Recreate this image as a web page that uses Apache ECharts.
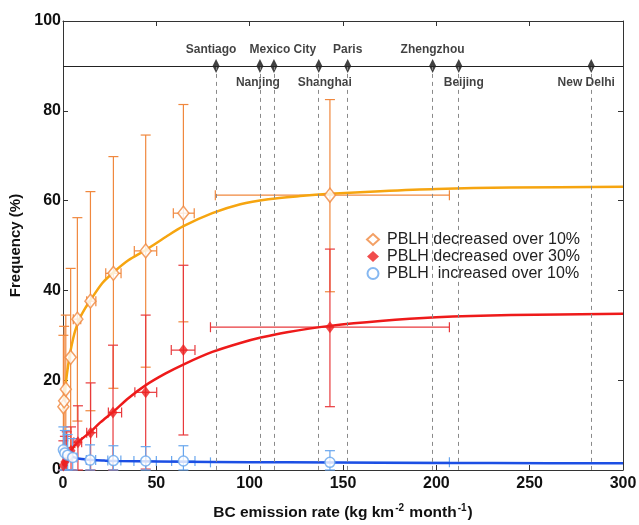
<!DOCTYPE html>
<html><head><meta charset="utf-8">
<script src="https://cdn.jsdelivr.net/npm/echarts@6/dist/echarts.min.js"></script>
<style>html,body{margin:0;padding:0;background:#fff}#c{width:639px;height:525px}</style>
</head><body><div id="c"></div>
<script>
// ---- axis ticks ----
const xTicks = [0, 50, 100, 150, 200, 250, 300];
const yTicks = [0, 20, 40, 60, 80, 100];

// ---- cities (BC emission rate) ----
const cityNames = ['Santiago', 'Nanjing', 'Mexico City', 'Shanghai', 'Paris', 'Zhengzhou', 'Beijing', 'New Delhi'];
const cityX = [82, 105.5, 113, 137, 152.5, 198, 212, 283];
const cityLineY = 90;

// ---- PBLH decreased over 10% ----
const dec10X     = [0.2, 0.6, 1.5, 4.1, 7.7, 14.7, 27, 44.3, 64.5, 143];
const dec10Y     = [14.1, 15.4, 18.0, 25.1, 33.6, 37.6, 43.8, 48.8, 57.2, 61.2];
const dec10YLow  = [0, 0, 0, 5.0, 10.9, 13.2, 18.2, 22.9, 33.0, 39.7];
const dec10YHigh = [30.0, 32.0, 34.5, 44.9, 56.2, 62.0, 69.8, 74.6, 81.4, 82.5];
const dec10XLow  = [null, null, null, null, 5.5, 12.7, 22.9, 38.2, 59.1, 81.6];
const dec10XHigh = [null, null, null, null, 9.5, 17.6, 31.1, 50.2, 70.3, 207];

// ---- PBLH decreased over 30% ----
const dec30X     = [0.2, 1.0, 2.0, 4.3, 8.0, 14.8, 26.8, 44.3, 64.5, 143];
const dec30Y     = [1.0, 1.8, 2.8, 4.3, 6.2, 8.3, 12.8, 17.3, 26.7, 31.8];
const dec30YLow  = [0, 0, 0, 0, 0, 0, 0, 0.2, 7.8, 14.1];
const dec30YHigh = [6.5, 7.5, 8.5, 9.6, 14.3, 19.4, 27.8, 34.5, 45.6, 49.2];
const dec30XLow  = [null, null, null, null, 5.8, 12.7, 24.3, 38.5, 58.0, 79];
const dec30XHigh = [null, null, null, null, 10.0, 18.0, 31.4, 50.2, 70.7, 207];

// ---- PBLH increased over 10% ----
const inc10X     = [0.2, 1.0, 2.5, 5.2, 14.5, 27, 44.3, 64.5, 143];
const inc10Y     = [4.5, 3.8, 3.3, 2.8, 2.2, 2.1, 2.0, 2.0, 1.7];
const inc10YLow  = [0, 0, 0, 0, 0, 0, 0, 0, 0];
const inc10YHigh = [9.6, 8.8, 7.9, 7.0, 5.6, 5.4, 5.2, 5.4, 4.3];
const inc10XLow  = [null, null, null, 3.0, 12.5, 24.0, 38.0, 58.2, 79];
const inc10XHigh = [null, null, null, 7.5, 17.5, 31.0, 50.0, 70.7, 207];

// ---- fitted curves ----
const fit10X = [0, 1, 2, 3, 4.5, 6.5, 9, 12, 15, 21, 27, 35, 44.3, 55, 64.5, 80, 95, 110, 127, 143, 170, 200, 240, 300];
const fit10Y = [13.4, 17.5, 21, 24, 27.5, 31, 33.8, 36.1, 38, 41.6, 44.0, 46.7, 49.0, 51.9, 54.3, 57.2, 59.2, 60.3, 61.0, 61.5, 62.1, 62.6, 62.9, 63.1];
const fit30X = [0, 2, 4.5, 8, 15, 20, 27, 35, 44, 55, 65, 80, 95, 106, 120, 143, 170, 200, 240, 300];
const fit30Y = [1.0, 2.8, 4.5, 6.2, 8.6, 10.6, 13.0, 16.0, 18.8, 21.5, 23.6, 26.3, 28.3, 29.5, 30.7, 32.1, 33.2, 34.0, 34.5, 34.8];
const fitIncX = [0, 2, 4, 6, 9, 12, 16, 22, 30, 50, 80, 120, 170, 230, 300];
const fitIncY = [4.5, 3.8, 3.2, 2.8, 2.5, 2.35, 2.2, 2.1, 2.0, 1.9, 1.8, 1.7, 1.6, 1.55, 1.5];

// ---- styles ----
const FONT = '"Liberation Sans", Arial, Helvetica, sans-serif';
const cityLabelSide = ['top', 'bottom', 'top', 'bottom', 'top', 'top', 'bottom', 'bottom'];
const cityLabelOffset = [[-5, 2], [-2, -1], [9, 2], [6, -1], [0, 2], [0, 2], [5, -1], [-5, -1]];
const C10 = '#f0883e', C10fit = '#f6a510';
const C30 = '#ee2020', C30bar = '#e8393c', C30fit = '#ee1a1a';
const CIN = '#68a6ee', CINfit = '#1c4fe4';

function zip(...arrs) { return arrs[0].map((_, i) => arrs.map(a => a[i])); }

function errSeries(name, xs, ys, yl, yh, xl, xh, color) {
  return {
    type: 'custom', name: name + ' err', z: 2, silent: true,
    data: zip(xs, ys, yl, yh),
    encode: { x: 0, y: [1, 2, 3] },
    renderItem: function (params, api) {
      const i = params.dataIndex;
      const x = api.value(0), y = api.value(1);
      const st = { stroke: color, lineWidth: 1.2, fill: null };
      const ch = [];
      const pl = api.coord([x, api.value(2)]), ph = api.coord([x, api.value(3)]);
      const cw = 5;
      ch.push({ type: 'line', shape: { x1: pl[0], y1: pl[1], x2: ph[0], y2: ph[1] }, style: st });
      ch.push({ type: 'line', shape: { x1: ph[0] - cw, y1: ph[1], x2: ph[0] + cw, y2: ph[1] }, style: st });
      ch.push({ type: 'line', shape: { x1: pl[0] - cw, y1: pl[1], x2: pl[0] + cw, y2: pl[1] }, style: st });
      if (xl[i] != null && xh[i] != null) {
        const a = api.coord([xl[i], y]), b = api.coord([xh[i], y]);
        ch.push({ type: 'line', shape: { x1: a[0], y1: a[1], x2: b[0], y2: b[1] }, style: st });
        ch.push({ type: 'line', shape: { x1: a[0], y1: a[1] - cw, x2: a[0], y2: a[1] + cw }, style: st });
        ch.push({ type: 'line', shape: { x1: b[0], y1: b[1] - cw, x2: b[0], y2: b[1] + cw }, style: st });
      }
      return { type: 'group', children: ch };
    }
  };
}

const chart = echarts.init(document.getElementById('c'), null, { renderer: 'canvas' });

const cityData = cityX.map((x, i) => ({
  name: cityNames[i], value: [x, cityLineY],
  label: { position: cityLabelSide[i], offset: cityLabelOffset[i] }
}));
const cityLines = cityX.map(x => [{ coord: [x, cityLineY] }, { coord: [x, 0] }]);
cityLines.push([{ coord: [xTicks[0], cityLineY], lineStyle: { type: 'solid', color: '#222', width: 1 } },
                { coord: [xTicks[xTicks.length - 1], cityLineY] }]);

const axisLine = { show: true, onZero: false, lineStyle: { color: '#333', width: 1 } };
const tickStyle = { show: true, inside: true, length: 5, lineStyle: { color: '#333' } };

const option = {
  animation: false,
  backgroundColor: '#fff',
  textStyle: { fontFamily: FONT },
  grid: { left: 63, right: 16, top: 21, bottom: 55, containLabel: false, outerBoundsMode: 'none' },
  xAxis: [{
    type: 'value', position: 'bottom', min: xTicks[0], max: xTicks[xTicks.length - 1], interval: 50,
    axisLine, axisTick: tickStyle, splitLine: { show: false },
    axisLabel: { fontFamily: FONT, fontSize: 16, fontWeight: 'bold', color: '#111', margin: 6 },
    name: '{a|BC emission rate (kg km}{s|-2}{a| month}{s|-1}{a|)}',
    nameLocation: 'middle', nameGap: 33,
    nameTextStyle: {
      rich: {
        a: { fontFamily: FONT, fontSize: 15.5, fontWeight: 'bold', color: '#111', lineHeight: 20 },
        s: { fontFamily: FONT, fontSize: 10, fontWeight: 'bold', color: '#111', lineHeight: 20, padding: [0, 1, 9, 1] }
      }
    }
  }, {
    type: 'value', position: 'top', min: xTicks[0], max: xTicks[xTicks.length - 1], interval: 50,
    axisLine, axisTick: tickStyle, axisLabel: { show: false }, splitLine: { show: false }
  }],
  yAxis: [{
    type: 'value', position: 'left', min: yTicks[0], max: yTicks[yTicks.length - 1], interval: 20,
    axisLine, axisTick: tickStyle, splitLine: { show: false },
    axisLabel: { fontFamily: FONT, fontSize: 16, fontWeight: 'bold', color: '#111', margin: 2 },
    name: 'Frequency (%)', nameLocation: 'middle', nameGap: 33,
    nameTextStyle: { fontFamily: FONT, fontSize: 15, fontWeight: 'bold', color: '#111' }
  }, {
    type: 'value', position: 'right', min: yTicks[0], max: yTicks[yTicks.length - 1], interval: 20,
    axisLine, axisTick: tickStyle, axisLabel: { show: false }, splitLine: { show: false }
  }],
  legend: {
    orient: 'vertical', left: 366, top: 231, padding: 0, itemGap: 0,
    itemWidth: 12, itemHeight: 11, selectedMode: false,
    textStyle: { fontFamily: FONT, fontSize: 16, color: '#222', lineHeight: 17, padding: [0, 0, 0, 3] },
    data: [
      { name: 'PBLH decreased over 10%', icon: 'diamond' },
      { name: 'PBLH decreased over 30%', icon: 'diamond' },
      { name: 'PBLH  increased over 10%', icon: 'circle' }
    ]
  },
  series: [
    {
      type: 'scatter', name: 'cities', z: 1, silent: true,
      data: cityData, symbol: 'diamond', symbolSize: [7, 14],
      itemStyle: { color: '#111' },
      label: { show: true, formatter: '{b}', fontFamily: FONT, fontSize: 12, fontWeight: 'bold', color: '#111', distance: 5 },
      markLine: {
        silent: true, symbol: 'none', label: { show: false },
        lineStyle: { type: [4, 4], color: '#8a8a8a', width: 1 },
        data: cityLines
      }
    },
    errSeries('dec10', dec10X, dec10Y, dec10YLow, dec10YHigh, dec10XLow, dec10XHigh, C10),
    errSeries('dec30', dec30X, dec30Y, dec30YLow, dec30YHigh, dec30XLow, dec30XHigh, C30bar),
    errSeries('inc10', inc10X, inc10Y, inc10YLow, inc10YHigh, inc10XLow, inc10XHigh, CIN),
    { type: 'line', name: 'fit10', z: 3, silent: true, data: zip(fit10X, fit10Y), showSymbol: false, symbol: 'none',
      smooth: 0.3, lineStyle: { color: C10fit, width: 2.5 } },
    { type: 'line', name: 'fit30', z: 3, silent: true, data: zip(fit30X, fit30Y), showSymbol: false, symbol: 'none',
      smooth: 0.3, lineStyle: { color: C30fit, width: 2.5 } },
    { type: 'line', name: 'fitInc', z: 3, silent: true, data: zip(fitIncX, fitIncY), showSymbol: false, symbol: 'none',
      smooth: 0.3, lineStyle: { color: CINfit, width: 2.5 } },
    { type: 'scatter', name: 'PBLH decreased over 10%', z: 4, data: zip(dec10X, dec10Y),
      symbol: 'diamond', symbolSize: [11, 14],
      itemStyle: { color: '#fff', borderColor: C10, borderWidth: 1.5 } },
    { type: 'scatter', name: 'PBLH decreased over 30%', z: 4, data: zip(dec30X, dec30Y),
      symbol: 'diamond', symbolSize: [9, 12],
      itemStyle: { color: C30 } },
    { type: 'scatter', name: 'PBLH  increased over 10%', z: 4, data: zip(inc10X, inc10Y),
      symbol: 'circle', symbolSize: 10,
      itemStyle: { color: '#fff', borderColor: CIN, borderWidth: 1.5 } }
  ]
};
chart.setOption(option);
</script>
</body></html>
